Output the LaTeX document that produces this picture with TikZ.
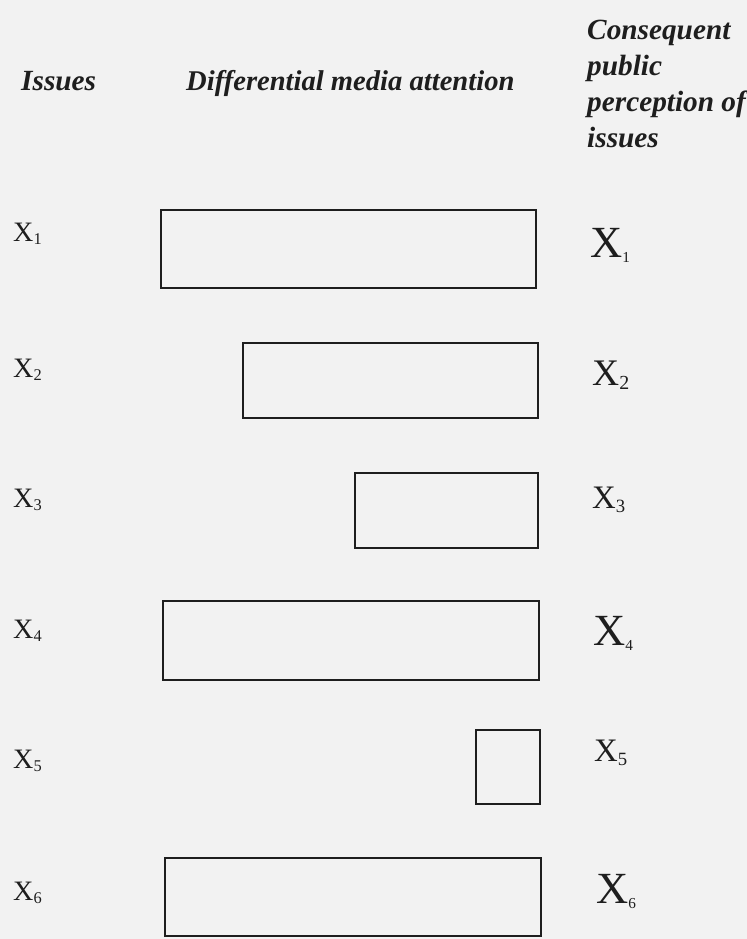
\documentclass[tikz,border=0pt]{standalone}
\usepackage{fontspec}
\setmainfont{Liberation Serif}
\usepackage{tikz}
\usepackage{xcolor}
\usetikzlibrary{positioning}
\definecolor{cPaper}{RGB}{242,242,242}
\definecolor{cInk}{RGB}{30,30,30}
\newcommand{\issuelab}[3]{{\fontsize{#1}{#1}\selectfont X\raisebox{-0.13em}{\fontsize{#2}{#2}\selectfont #3}}}
\tikzset{
	head/.style={inner sep=0pt, anchor=base west, font=\fontsize{25}{30.5}\selectfont\bfseries\itshape, text=cInk},
	lab/.style={inner sep=0pt, anchor=base west, text=cInk},
	bar/.style={draw=cInk, line width=2.5pt},
}
\begin{document}
\begin{tikzpicture}[x=0.03cm, y=-0.03cm]
	\fill[cPaper] (0,0) rectangle (747,939);
	\useasboundingbox (0,0) rectangle (747,939);
	% column heads
	\node[head] (hissue) at (21,90) {Issues};
	\node[head, font=\fontsize{24.4}{30.5}\selectfont\bfseries\itshape] (hmedia) at (186,90) {Differential media attention};
	\node[head, align=left] (hpublic) at (587,147) {Consequent\\public\\perception of\\issues};
	% bars of media attention
	\foreach \n/\xl/\xr/\yt/\yb in {1/161/536/210/288, 2/243/538/343/418, 3/355/538/473/548, 4/163/539/601/680, 5/476/540/730/804, 6/165/541/858/936} {
		\draw[bar] (\xl,\yt) rectangle (\xr,\yb);
	}
	% issues on the left
	\foreach \n/\y in {1/241, 2/377, 3/507, 4/638, 5/768, 6/900} {
		\node[lab] (in\n) at (13,\y) {\issuelab{24}{14}{\n}};
	}
	% perceived issues on the right
	\foreach \n/\x/\y/\sz/\sub in {1/590/257/38/13, 2/592/385/32/17, 3/592/508/28/16, 4/593/645/38/13, 5/594/761/28/16, 6/596/903/38/13} {
		\node[lab] (out\n) at (\x,\y) {\issuelab{\sz}{\sub}{\n}};
	}
\end{tikzpicture}
\end{document}
